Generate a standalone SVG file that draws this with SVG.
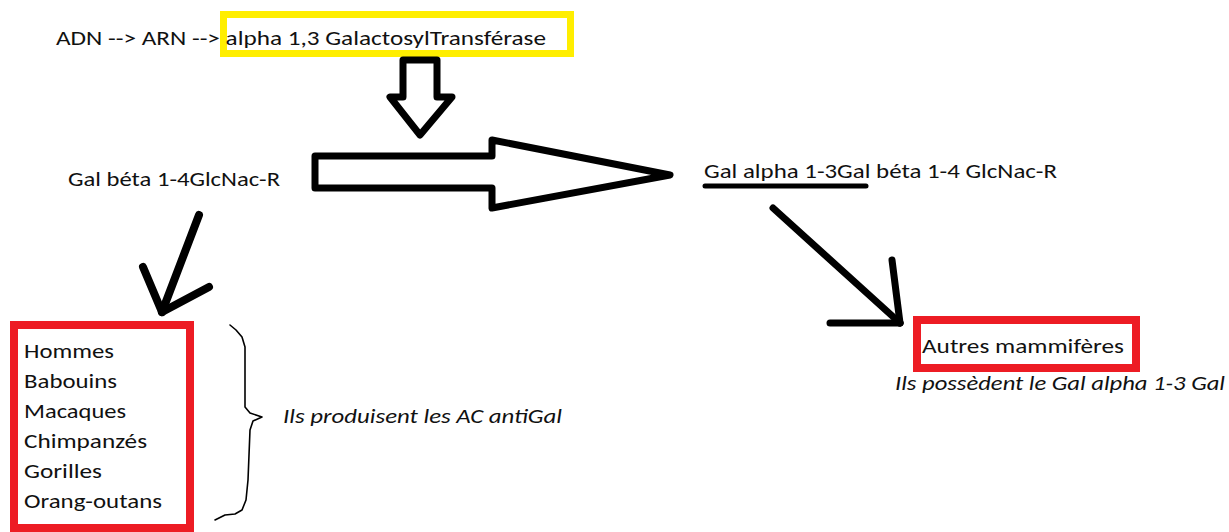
<svg xmlns="http://www.w3.org/2000/svg" width="1229" height="532" viewBox="0 0 1229 532">
  <style>
    .t { font-family: Carlito, Lato, "Open Sans", sans-serif; font-size: 19.5px; fill: #111; }
    .i { font-style: italic; }
    .ink { fill: none; stroke: #000; stroke-linecap: round; stroke-linejoin: round; }
    .block { fill: #fff; stroke: #000; stroke-width: 7; stroke-linejoin: round; }
    .red { fill: #fff; stroke: #ed1c24; stroke-width: 8; }
  </style>
  <rect width="1229" height="532" fill="#fff"/>

  <!-- gene expression line -->
  <g id="enzyme">
    <rect x="223.5" y="14.5" width="347" height="39" fill="#fff" stroke="#ffee00" stroke-width="7"/>
    <text class="t" x="56" y="45" textLength="490" lengthAdjust="spacingAndGlyphs">ADN --&gt; ARN --&gt; alpha 1,3 GalactosylTransférase</text>
  </g>

  <g id="substrate">
    <text class="t" x="68" y="186" textLength="212" lengthAdjust="spacingAndGlyphs">Gal béta 1-4GlcNac-R</text>
  </g>

  <g id="product">
    <text class="t" x="704" y="178" textLength="353" lengthAdjust="spacingAndGlyphs">Gal alpha 1-3Gal béta 1-4 GlcNac-R</text>
    <line class="ink" x1="705" y1="186" x2="866" y2="186" stroke-width="5"/>
  </g>

  <g id="primates">
    <rect class="red" x="14" y="325" width="176" height="203"/>
    <text class="t" x="24" y="358" textLength="90" lengthAdjust="spacingAndGlyphs">Hommes</text>
    <text class="t" x="24" y="388" textLength="93" lengthAdjust="spacingAndGlyphs">Babouins</text>
    <text class="t" x="24" y="418" textLength="102" lengthAdjust="spacingAndGlyphs">Macaques</text>
    <text class="t" x="24" y="448" textLength="123" lengthAdjust="spacingAndGlyphs">Chimpanzés</text>
    <text class="t" x="24" y="478" textLength="78" lengthAdjust="spacingAndGlyphs">Gorilles</text>
    <text class="t" x="24" y="508" textLength="138" lengthAdjust="spacingAndGlyphs">Orang-outans</text>
  </g>

  <g id="primates-note">
    <path class="ink" stroke-width="1.6" d="M230,325 L236,330 L242,337 L245,347 L245,407 L250,413 L262,417 L253,421 L250,430 L248,480 L246,500 L242,510 L235,514 L225,515 L215,520"/>
    <text class="t i" x="283" y="423" textLength="279" lengthAdjust="spacingAndGlyphs">Ils produisent les AC antiGal</text>
  </g>

  <g id="mammals">
    <rect class="red" x="917" y="320" width="219" height="48"/>
    <text class="t" x="922" y="353" textLength="202" lengthAdjust="spacingAndGlyphs">Autres mammifères</text>
    <text class="t i" x="895" y="390" textLength="330" lengthAdjust="spacingAndGlyphs">Ils possèdent le Gal alpha 1-3 Gal</text>
  </g>

  <g id="connectors">
    <!-- enzyme acts on the reaction -->
    <path class="block" d="M403,60 L437,60 L437,97 L452,97 L420,135 L390,97 L403,97 Z"/>
    <!-- substrate to product -->
    <path class="block" d="M315,156 L492,156 L492,140 L670,175 L492,208 L492,188 L315,188 Z"/>
    <!-- substrate to primates -->
    <g class="ink" stroke-width="8">
      <line x1="199" y1="215" x2="162" y2="312"/>
      <line x1="143" y1="267" x2="162" y2="312"/>
      <line x1="209" y1="287" x2="162" y2="312"/>
    </g>
    <!-- product to other mammals -->
    <g class="ink" stroke-width="7">
      <line x1="773" y1="208" x2="900" y2="323"/>
      <line x1="830" y1="323" x2="900" y2="323"/>
      <line x1="892" y1="260" x2="900" y2="323"/>
    </g>
  </g>
</svg>
